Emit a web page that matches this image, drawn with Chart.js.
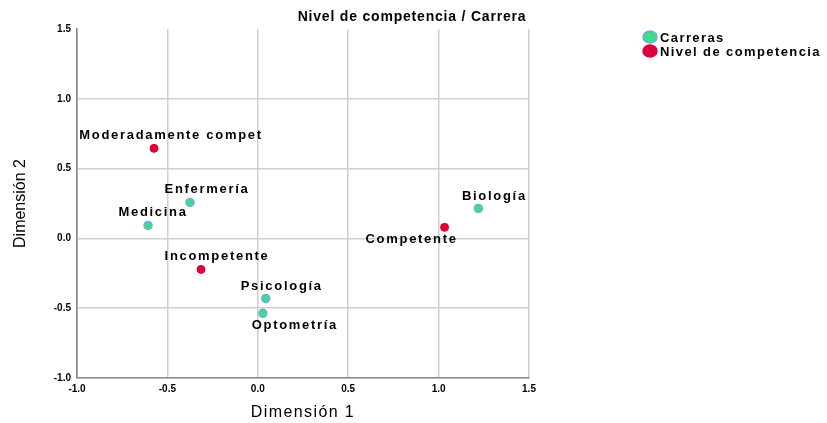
<!DOCTYPE html>
<html>
<head>
<meta charset="utf-8">
<script src="https://cdn.jsdelivr.net/npm/chart.js@4.4.1/dist/chart.umd.min.js"></script>
<style>
  html, body { margin: 0; padding: 0; background: #fff; }
  #wrap { width: 827px; height: 423px; position: relative; }
</style>
</head>
<body>
<div id="wrap"><canvas id="chart" width="827" height="423"></canvas></div>
<script>
// Data
const careerNames = ['Enfermería', 'Medicina', 'Psicología', 'Optometría', 'Biología'];
const careerDim1 = [-0.375, -0.607, 0.044, 0.028, 1.22];
const careerDim2 = [0.258, 0.093, -0.43, -0.537, 0.215];

const levelNames = ['Moderadamente compet', 'Incompetente', 'Competente'];
const levelDim1 = [-0.574, -0.314, 1.033];
const levelDim2 = [0.645, -0.222, 0.079];

const axisTicks = [-1.0, -0.5, 0.0, 0.5, 1.0, 1.5];

// Label placement relative to each point (layout only): [dx, dy]
const careerLabelOffsets = [[17, -13], [5, -13], [16, -12], [32, 12], [16, -12]];
const levelLabelOffsets = [[17, -13], [16, -13], [-33, 12]];

const FONT = '"Liberation Sans", Arial, sans-serif';
const GREEN = '#3ddc86';
const GREEN_BORDER = '#74aaea';
const RED = '#de003a';

// Draws title, point labels, legend and axis titles
const decorations = {
    id: 'decorations',
    afterDatasetsDraw(chart) {
        const ctx = chart.ctx;
        ctx.save();
        ctx.fillStyle = '#000';

        // Title
        ctx.font = 'bold 14px ' + FONT;
        ctx.letterSpacing = '0.8px';
        ctx.textAlign = 'center';
        ctx.textBaseline = 'middle';
        ctx.fillText('Nivel de competencia / Carrera', 412, 17);

        // Point labels
        ctx.font = 'bold 13px ' + FONT;
        ctx.letterSpacing = '1.7px';
        const drawLabels = (dsIndex, names, offsets) => {
            const meta = chart.getDatasetMeta(dsIndex);
            meta.data.forEach((pt, i) => {
                ctx.fillText(names[i], pt.x + offsets[i][0], pt.y + offsets[i][1]);
            });
        };
        drawLabels(0, careerNames, careerLabelOffsets);
        drawLabels(1, levelNames, levelLabelOffsets);

        // Legend
        const legendItems = [
            { text: chart.data.datasets[0].label, fill: GREEN, border: GREEN_BORDER },
            { text: chart.data.datasets[1].label, fill: RED, border: RED }
        ];
        ctx.textAlign = 'left';
        ctx.font = 'bold 13px ' + FONT;
        ctx.letterSpacing = '1.4px';
        legendItems.forEach((item, i) => {
            const y = 37 + i * 14;
            ctx.beginPath();
            ctx.ellipse(650, y, 7, 6, 0, 0, Math.PI * 2);
            ctx.fillStyle = item.fill;
            ctx.fill();
            ctx.lineWidth = 1.5;
            ctx.strokeStyle = item.border;
            ctx.stroke();
            ctx.fillStyle = '#000';
            ctx.fillText(item.text, 660, y + 1);
        });

        // Axis titles
        ctx.font = '16px ' + FONT;
        ctx.textAlign = 'center';
        const area = chart.chartArea;
        ctx.letterSpacing = '1.4px';
        ctx.fillText('Dimensión 1', (area.left + area.right) / 2, 413);
        ctx.letterSpacing = '0px';
        ctx.translate(21, (area.top + area.bottom) / 2);
        ctx.rotate(-Math.PI / 2);
        ctx.fillText('Dimensión 2', 0, 0);
        ctx.restore();
    }
};

const tickFont = { family: FONT, size: 10, weight: 'bold' };

new Chart(document.getElementById('chart'), {
    type: 'scatter',
    data: {
        datasets: [
            {
                label: 'Carreras',
                data: careerDim1.map((x, i) => ({ x: x, y: careerDim2[i] })),
                backgroundColor: GREEN,
                borderColor: GREEN_BORDER,
                borderWidth: 1.5,
                pointRadius: 4
            },
            {
                label: 'Nivel de competencia',
                data: levelDim1.map((x, i) => ({ x: x, y: levelDim2[i] })),
                backgroundColor: RED,
                borderColor: RED,
                borderWidth: 1,
                pointRadius: 4
            }
        ]
    },
    options: {
        responsive: false,
        animation: false,
        layout: { padding: { top: 29, right: 298, left: 0, bottom: 0 } },
        plugins: {
            legend: { display: false },
            title: { display: false },
            tooltip: { enabled: false }
        },
        scales: {
            x: {
                type: 'linear',
                min: -1,
                max: 1.5,
                afterBuildTicks: (scale) => { scale.ticks = axisTicks.map(v => ({ value: v })); },
                afterFit: (scale) => { scale.height = 45; },
                grid: {
                    color: (c) => c.tick && c.tick.value === -1 ? '#8c8c8c' : '#cfcfcf',
                    lineWidth: 1.5,
                    drawTicks: false
                },
                border: { color: '#8c8c8c', width: 1.5 },
                ticks: {
                    font: tickFont,
                    color: '#000',
                    padding: 5,
                    maxRotation: 0,
                    callback: (v) => Number(v).toFixed(1)
                }
            },
            y: {
                type: 'linear',
                min: -1,
                max: 1.5,
                afterBuildTicks: (scale) => { scale.ticks = axisTicks.map(v => ({ value: v })); },
                afterFit: (scale) => { scale.width = 77; },
                grid: {
                    color: (c) => c.tick && c.tick.value === 1.5 ? 'rgba(0,0,0,0)' : '#cfcfcf',
                    lineWidth: 1.5,
                    drawTicks: false
                },
                border: { color: '#8c8c8c', width: 1.5 },
                ticks: {
                    font: tickFont,
                    color: '#000',
                    padding: 6,
                    callback: (v) => Number(v).toFixed(1)
                }
            }
        }
    },
    plugins: [decorations]
});
</script>
</body>
</html>
